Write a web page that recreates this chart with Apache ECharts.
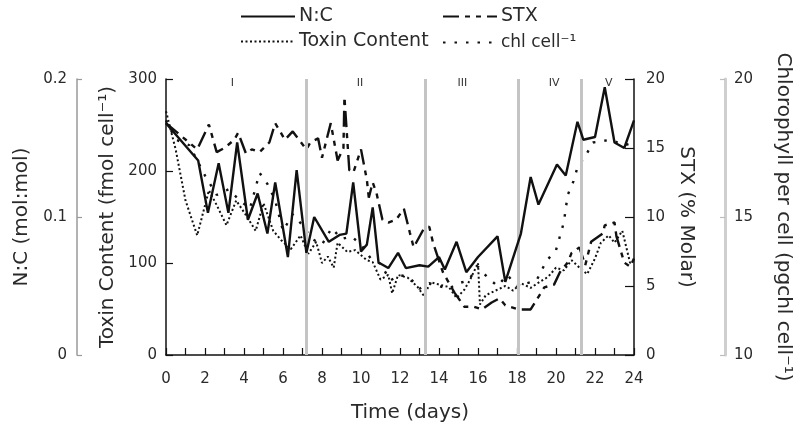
<!DOCTYPE html>
<html>
<head>
<meta charset="utf-8">
<script src="https://cdn.jsdelivr.net/npm/echarts@6/dist/echarts.min.js"></script>
<style>html,body{margin:0;padding:0;background:#fff}#c{width:794px;height:425px}</style>
</head>
<body>
<div id="c"></div>
<script>
// ---- data ----
const ncDays = [0, 1.65, 2.15, 2.7, 3.2, 3.65, 4.2, 4.7, 5.2, 5.6, 6.25, 6.7, 7.2, 7.6, 8.35, 8.9, 9.25, 9.6, 10.0, 10.3, 10.6, 10.9, 11.4, 11.9, 12.3, 13.0, 13.45, 14.0, 14.3, 14.9, 15.4, 16.0, 17.0, 17.4, 18.2, 18.7, 19.1, 20.05, 20.5, 21.1, 21.4, 22.0, 22.5, 23.0, 23.5, 24.0];
const ncValues = [0.168, 0.141, 0.103, 0.139, 0.103, 0.154, 0.098, 0.117, 0.088, 0.125, 0.071, 0.134, 0.074, 0.100, 0.082, 0.087, 0.088, 0.125, 0.075, 0.080, 0.107, 0.067, 0.063, 0.074, 0.063, 0.065, 0.064, 0.071, 0.062, 0.082, 0.060, 0.071, 0.086, 0.053, 0.088, 0.129, 0.109, 0.138, 0.130, 0.169, 0.156, 0.158, 0.194, 0.154, 0.150, 0.170];

const toxDays = [0, 0.5, 1.0, 1.6, 2.2, 2.6, 3.1, 3.6, 4.1, 4.6, 5.0, 5.5, 5.9, 6.4, 6.9, 7.3, 7.7, 8.0, 8.3, 8.6, 8.8, 9.3, 9.7, 10.3, 10.6, 11.0, 11.4, 11.6, 11.9, 12.4, 12.9, 13.2, 13.6, 14.1, 14.5, 14.9, 15.3, 15.6, 16.0, 16.1, 16.4, 16.9, 17.4, 17.8, 18.2, 18.7, 19.2, 19.6, 20.0, 20.4, 20.8, 21.2, 21.6, 22.0, 22.3, 22.7, 23.0, 23.4, 23.8, 24.0];
const toxValues = [265, 223, 168, 130, 179, 163, 141, 168, 152, 135, 165, 135, 125, 115, 130, 110, 123, 100, 107, 95, 122, 112, 114, 103, 101, 82, 87, 67, 87, 84, 74, 65, 79, 76, 74, 62, 71, 82, 100, 55, 65, 70, 75, 70, 78, 73, 80, 85, 95, 92, 103, 95, 88, 105, 122, 130, 122, 135, 100, 103];

const stxDays = [0, 1.6, 2.2, 2.6, 3.0, 3.5, 3.7, 4.1, 4.4, 4.8, 5.3, 5.6, 6.1, 6.5, 7.2, 7.4, 7.8, 8.0, 8.45, 8.8, 9.1, 9.15, 9.4, 9.6, 10.0, 10.3, 10.4, 10.6, 10.8, 11.1, 11.4, 11.8, 12.2, 12.5, 12.7, 13.2, 13.5, 13.7, 14.2, 14.8, 15.3, 15.8, 16.2, 16.7, 17.1, 17.4, 18.1, 18.7, 19.4, 19.9, 20.2, 20.6, 20.8, 21.2, 21.5, 21.8, 22.4, 22.5, 23.0, 23.1, 23.5, 23.8, 24.0];
const stxValues = [16.8, 14.9, 16.7, 14.7, 15.0, 15.6, 16.1, 14.6, 14.9, 14.7, 15.4, 16.8, 15.6, 16.2, 14.9, 15.4, 15.7, 14.3, 16.8, 14.1, 15.0, 18.7, 13.4, 13.2, 14.9, 12.7, 11.4, 12.5, 11.7, 9.8, 9.6, 9.8, 10.6, 8.9, 7.8, 9.1, 9.3, 8.1, 6.0, 4.5, 3.5, 3.5, 3.3, 3.8, 4.1, 3.6, 3.3, 3.3, 4.9, 5.1, 6.0, 6.7, 7.4, 7.8, 6.5, 8.2, 8.8, 9.4, 9.6, 8.6, 6.7, 6.4, 7.0];

const chlDays = [0, 0.5, 1.2, 2.0, 2.6, 3.2, 3.8, 4.3, 4.8, 5.2, 5.6, 6.0, 6.5, 7.0, 7.5, 8.0, 8.5, 9.0, 9.5, 10.0, 10.5, 11.0, 11.5, 12.0, 12.5, 13.0, 13.5, 14.0, 14.5, 15.0, 15.5, 16.0, 16.5, 17.0, 17.5, 18.0, 18.5, 19.0, 19.5, 20.0, 20.4, 20.6, 20.9, 21.1, 21.5, 21.9, 22.8, 23.5, 24.0];
const chlValues = [18.5, 17.8, 17.6, 16.5, 15.8, 16.0, 15.6, 15.3, 16.6, 16.2, 15.6, 14.5, 15.1, 14.7, 14.2, 14.0, 14.6, 14.2, 14.3, 14.0, 13.5, 13.3, 12.7, 12.9, 12.8, 12.4, 12.6, 12.5, 12.4, 12.6, 12.7, 13.2, 12.8, 12.5, 12.9, 12.5, 12.6, 12.7, 13.4, 13.8, 14.8, 15.8, 16.3, 16.8, 17.2, 17.7, 17.8, 17.6, 17.7];

const phaseBoundaries = [7.2, 13.3, 18.05, 21.3];
const phaseLabels = ['I', 'II', 'III', 'IV', 'V'];
const phaseLabelDays = [3.4, 9.95, 15.2, 19.9, 22.7];

const xTicks = { min: 0, max: 24, interval: 2 };
const ncTicks = { min: 0, max: 0.2, interval: 0.1 };
const toxTicks = { min: 0, max: 300, interval: 100 };
const stxTicks = { min: 0, max: 20, interval: 5 };
const chlTicks = { min: 10, max: 20, interval: 5 };

// ---- chart ----
const zip = (a, b) => a.map((d, i) => [d, b[i]]);
const FONT = 'DejaVu Sans';
const TXT = '#2a2a2a';
const INK = '#111';

const chart = echarts.init(document.getElementById('c'), null, { renderer: 'canvas' });

function legend(name, left, top, size) {
  return {
    data: [name], left: left, top: top, itemWidth: 54, itemHeight: 14, padding: 0,
    itemStyle: { opacity: 0 },
    textStyle: { fontFamily: FONT, fontSize: size || 19, color: TXT, padding: [0, 0, 0, -1] },
    selectedMode: false
  };
}

chart.setOption({
  animation: false,
  backgroundColor: '#fff',
  legend: [
    legend('N:C', 240, 7),
    legend('STX', 442, 7),
    legend('Toxin Content', 240, 32),
    legend('chl cell⁻¹', 442, 34, 17)
  ],
  grid: { left: 166, right: 160, top: 79, bottom: 70, containLabel: false, outerBoundsMode: 'none' },
  xAxis: {
    type: 'value', min: xTicks.min, max: xTicks.max, interval: xTicks.interval,
    name: 'Time (days)', nameLocation: 'middle', nameGap: 48,
    nameTextStyle: { fontFamily: FONT, fontSize: 20, color: TXT, padding: [0, 0, 0, 20] },
    axisLine: { lineStyle: { color: INK, width: 1.5 } },
    axisTick: { inside: true, length: 7, lineStyle: { color: INK, width: 1.2 } },
    minorTick: { show: true, splitNumber: 2, length: 7, lineStyle: { color: INK, width: 1.2 } },
    axisLabel: { fontFamily: FONT, fontSize: 15, color: TXT, margin: 17 },
    splitLine: { show: false }
  },
  yAxis: [
    {
      type: 'value', position: 'left', min: toxTicks.min, max: toxTicks.max, interval: toxTicks.interval,
      name: 'Toxin Content (fmol cell⁻¹)', nameLocation: 'middle', nameRotate: 90, nameGap: 46,
      nameTextStyle: { fontFamily: FONT, fontSize: 20, color: TXT },
      axisLine: { show: true, lineStyle: { color: INK, width: 1.5 } },
      axisTick: { show: true, inside: true, length: 7, lineStyle: { color: INK, width: 1.2 } },
      axisLabel: { fontFamily: FONT, fontSize: 15, color: TXT, margin: 9 },
      splitLine: { show: false }
    },
    {
      type: 'value', position: 'left', offset: 89, min: ncTicks.min, max: ncTicks.max, interval: ncTicks.interval,
      name: 'N:C (mol:mol)', nameLocation: 'middle', nameRotate: 90, nameGap: 44,
      nameTextStyle: { fontFamily: FONT, fontSize: 20, color: TXT },
      axisLine: { show: true, lineStyle: { color: '#9a9a9a', width: 1.5 } },
      axisTick: { show: true, inside: true, length: 5, lineStyle: { color: '#9a9a9a', width: 1.2 } },
      axisLabel: { fontFamily: FONT, fontSize: 15, color: TXT, margin: 10 },
      splitLine: { show: false }
    },
    {
      type: 'value', position: 'right', min: stxTicks.min, max: stxTicks.max, interval: stxTicks.interval,
      name: 'STX (% Molar)', nameLocation: 'middle', nameRotate: -90, nameGap: 33,
      nameTextStyle: { fontFamily: FONT, fontSize: 20, color: TXT },
      axisLine: { show: true, lineStyle: { color: INK, width: 1.5 } },
      axisTick: { show: true, inside: true, length: 9, lineStyle: { color: INK, width: 1.2 } },
      axisLabel: { fontFamily: FONT, fontSize: 15, color: TXT, margin: 12 },
      splitLine: { show: false }
    },
    {
      type: 'value', position: 'right', offset: 91, min: chlTicks.min, max: chlTicks.max, interval: chlTicks.interval,
      name: 'Chlorophyll per cell (pgchl cell⁻¹)', nameLocation: 'middle', nameRotate: -90, nameGap: 48,
      nameTextStyle: { fontFamily: FONT, fontSize: 20, color: TXT },
      axisLine: { show: true, lineStyle: { color: '#cfcfcf', width: 3 } },
      axisTick: { show: true, inside: true, length: 5, lineStyle: { color: '#bdbdbd', width: 1.2 } },
      axisLabel: { fontFamily: FONT, fontSize: 15, color: TXT, margin: 9 },
      splitLine: { show: false }
    }
  ],
  series: [
    {
      name: 'phases', type: 'line', xAxisIndex: 0, yAxisIndex: 0, data: [], silent: true, z: 1,
      markLine: {
        silent: true, symbol: 'none', animation: false,
        label: { show: false },
        lineStyle: { color: '#c4c4c4', width: 3, type: 'solid' },
        data: phaseBoundaries.map(d => ({ xAxis: d }))
      },
      markPoint: {
        silent: true, symbol: 'circle', symbolSize: 0,
        label: { show: true, position: 'inside', formatter: '{b}', fontFamily: FONT, fontSize: 11, color: '#333' },
        data: phaseLabels.map((t, i) => ({ name: t, coord: [phaseLabelDays[i], 296] }))
      }
    },
    {
      name: 'N:C', type: 'line', xAxisIndex: 0, yAxisIndex: 1, z: 5,
      data: zip(ncDays, ncValues), showSymbol: false, symbol: 'none',
      lineStyle: { color: INK, width: 2.4, type: 'solid' }, itemStyle: { color: INK }
    },
    {
      name: 'STX', type: 'line', xAxisIndex: 0, yAxisIndex: 2, z: 4,
      data: zip(stxDays, stxValues), showSymbol: false, symbol: 'none',
      lineStyle: { color: INK, width: 2.4, type: [16, 6, 5, 6, 5, 6] }, itemStyle: { color: INK }
    },
    {
      name: 'Toxin Content', type: 'line', xAxisIndex: 0, yAxisIndex: 0, z: 3,
      data: zip(toxDays, toxValues), showSymbol: false, symbol: 'none',
      lineStyle: { color: INK, width: 2, type: [2, 2.5] }, itemStyle: { color: INK }
    },
    {
      name: 'chl cell⁻¹', type: 'line', xAxisIndex: 0, yAxisIndex: 3, z: 3,
      data: zip(chlDays, chlValues), showSymbol: false, symbol: 'none',
      lineStyle: { color: INK, width: 2.4, type: [2.5, 9] }, itemStyle: { color: INK }
    }
  ]
});
</script>
</body>
</html>
